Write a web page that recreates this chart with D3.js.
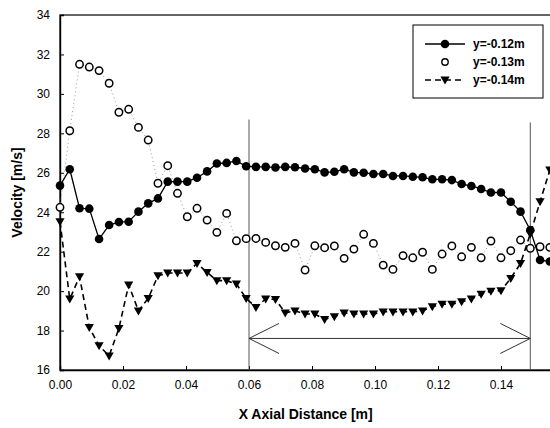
<!DOCTYPE html>
<html>
<head>
<meta charset="utf-8">
<script src="https://cdn.jsdelivr.net/npm/d3@7"></script>
<style>
  body { margin: 0; background: #fff; }
  svg { display: block; font-family: "Liberation Sans", Arial, sans-serif; }
</style>
</head>
<body>
<div class="chart"></div>
<script>
'use strict';

// x positions of the measurement stations [m]
var xDist = [0.0000, 0.0031, 0.0062, 0.0093, 0.0124, 0.0156, 0.0187, 0.0218, 0.0249, 0.0280,
             0.0311, 0.0342, 0.0373, 0.0404, 0.0435, 0.0467, 0.0498, 0.0529, 0.0560, 0.0591,
             0.0622, 0.0653, 0.0684, 0.0715, 0.0746, 0.0778, 0.0809, 0.0840, 0.0871, 0.0902,
             0.0933, 0.0964, 0.0995, 0.1026, 0.1057, 0.1089, 0.1120, 0.1151, 0.1182, 0.1213,
             0.1244, 0.1275, 0.1306, 0.1337, 0.1368, 0.1400, 0.1431, 0.1462, 0.1493, 0.1524,
             0.1555];

// y = -0.12 m
var v012 = [25.35, 26.18, 24.20, 24.18, 22.64, 23.35, 23.50, 23.52, 24.03, 24.45,
            24.70, 25.55, 25.55, 25.55, 25.75, 26.07, 26.47, 26.50, 26.60, 26.33,
            26.30, 26.30, 26.27, 26.30, 26.28, 26.22, 26.18, 26.02, 26.05, 26.18,
            26.02, 26.00, 25.94, 25.94, 25.84, 25.84, 25.80, 25.77, 25.67, 25.67,
            25.63, 25.43, 25.33, 25.18, 25.00, 25.00, 24.53, 24.03, 23.10, 21.58,
            21.50];

// y = -0.13 m
var v013 = [24.25, 28.13, 31.50, 31.36, 31.18, 30.54, 29.07, 29.22, 28.30, 27.66,
            25.47, 26.36, 24.96, 23.77, 24.20, 23.60, 22.98, 23.94, 22.55, 22.66,
            22.67, 22.47, 22.30, 22.22, 22.42, 21.07, 22.30, 22.20, 22.29, 21.66,
            22.13, 22.88, 22.42, 21.32, 21.10, 21.80, 21.69, 21.97, 21.10, 21.88,
            22.29, 21.74, 22.22, 21.69, 22.54, 21.69, 22.05, 22.59, 22.17, 22.25,
            22.22];

// y = -0.14 m
var v014 = [23.52, 19.60, 20.73, 18.16, 17.23, 16.72, 18.11, 20.32, 19.00, 19.63,
            20.78, 20.92, 20.92, 20.92, 21.41, 20.95, 20.53, 20.53, 20.36, 19.63,
            19.18, 19.60, 19.58, 18.90, 19.00, 18.84, 18.84, 18.57, 18.70, 18.90,
            18.84, 18.84, 18.84, 18.95, 18.95, 18.95, 18.95, 19.00, 19.21, 19.34,
            19.34, 19.46, 19.60, 19.85, 20.00, 20.02, 20.65, 21.40, 22.90, 24.53,
            26.14];

var seriesNames = ['y=-0.12m', 'y=-0.13m', 'y=-0.14m'];
var xTicks = [0.00, 0.02, 0.04, 0.06, 0.08, 0.10, 0.12, 0.14];
var yTicks = [16, 18, 20, 22, 24, 26, 28, 30, 32, 34];

// annotation: region between the two vertical markers
var regionX = [0.06, 0.1493];
var markerTop = [28.7, 28.55];
var arrowV = 17.6;

var width = 550, height = 428;
var margin = { left: 60, top: 15, bottom: 58 };

var x = d3.scaleLinear().domain([0, 0.16]).range([margin.left, margin.left + 504]);
var y = d3.scaleLinear().domain([16, 34]).range([height - margin.bottom, margin.top]);

var svg = d3.select('.chart')
  .append('svg')
  .attr('width', width)
  .attr('height', height);

// frame
svg.append('rect')
  .attr('x', x(0)).attr('y', y(34))
  .attr('width', x(0.16) - x(0)).attr('height', y(16) - y(34))
  .style('fill', 'none').style('stroke', '#000').style('stroke-width', 1.2);

// axes (ticks inside)
var xAxis = svg.append('g')
  .attr('transform', 'translate(0,' + y(16) + ')')
  .call(d3.axisBottom(x).tickValues(xTicks).tickSize(-4).tickPadding(10)
    .tickFormat(d3.format('.2f')));
var yAxis = svg.append('g')
  .attr('transform', 'translate(' + x(0) + ',0)')
  .call(d3.axisLeft(y).tickValues(yTicks).tickSize(-4).tickPadding(10));

[xAxis, yAxis].forEach(function(g) {
  g.select('.domain').style('stroke', '#000').style('stroke-width', 1.4);
  g.selectAll('line').style('stroke', '#000');
  g.selectAll('text').style('font-size', '12px').style('fill', '#000')
    .style('font-family', '"Liberation Sans", Arial, sans-serif');
});

// axis titles
svg.append('text')
  .attr('x', x(0.078)).attr('y', 419)
  .attr('text-anchor', 'middle')
  .style('font-size', '14px').style('font-weight', 'bold')
  .text('X Axial Distance [m]');
svg.append('text')
  .attr('transform', 'translate(22,' + y(25) + ') rotate(-90)')
  .attr('text-anchor', 'middle')
  .style('font-size', '14px').style('font-weight', 'bold')
  .text('Velocity [m/s]');

// vertical markers and double arrow
regionX.forEach(function(d, i) {
  svg.append('line')
    .attr('x1', x(d)).attr('x2', x(d))
    .attr('y1', y(markerTop[i])).attr('y2', y(16))
    .style('stroke', '#555').style('stroke-width', 1);
});
var ax0 = x(regionX[0]), ax1 = x(regionX[1]), ay = y(arrowV);
svg.append('path')
  .attr('d', 'M' + ax0 + ',' + ay + 'H' + ax1 +
    'M' + (ax0 + 30) + ',' + (ay - 15) + 'L' + ax0 + ',' + ay + 'L' + (ax0 + 30) + ',' + (ay + 15) +
    'M' + (ax1 - 30) + ',' + (ay - 15) + 'L' + ax1 + ',' + ay + 'L' + (ax1 - 30) + ',' + (ay + 15))
  .style('fill', 'none').style('stroke', '#333').style('stroke-width', 1);

var plot = svg.append('g');

function pts(vals) {
  return vals.map(function(v, i) { return [xDist[i], v]; });
}
var line = d3.line()
  .x(function(d) { return x(d[0]); })
  .y(function(d) { return y(d[1]); });

// y=-0.13 : dotted faint line, open circles
plot.append('path')
  .datum(pts(v013))
  .attr('d', line)
  .style('fill', 'none').style('stroke', '#999').style('stroke-width', 1)
  .style('stroke-dasharray', '1,3');

// y=-0.14 : dashed line, down triangles
plot.append('path')
  .datum(pts(v014))
  .attr('d', line)
  .style('fill', 'none').style('stroke', '#000').style('stroke-width', 1.6)
  .style('stroke-dasharray', '6,4');

// y=-0.12 : solid line, filled circles
plot.append('path')
  .datum(pts(v012))
  .attr('d', line)
  .style('fill', 'none').style('stroke', '#000').style('stroke-width', 1.3);

var tri = 'M-4.6,-3.4L4.6,-3.4L0,4.6Z';

plot.selectAll('.tri')
  .data(pts(v014)).enter()
  .append('path')
    .attr('class', 'tri')
    .attr('d', tri)
    .attr('transform', function(d) { return 'translate(' + x(d[0]) + ',' + y(d[1]) + ')'; })
    .style('fill', '#000');

plot.selectAll('.open')
  .data(pts(v013)).enter()
  .append('circle')
    .attr('class', 'open')
    .attr('cx', function(d) { return x(d[0]); })
    .attr('cy', function(d) { return y(d[1]); })
    .attr('r', 3.7)
    .style('fill', '#fff').style('stroke', '#000').style('stroke-width', 1.5);

plot.selectAll('.dot')
  .data(pts(v012)).enter()
  .append('circle')
    .attr('class', 'dot')
    .attr('cx', function(d) { return x(d[0]); })
    .attr('cy', function(d) { return y(d[1]); })
    .attr('r', 4.3)
    .style('fill', '#000');

// legend
var legend = svg.append('g').attr('transform', 'translate(413,25)');
legend.append('rect')
  .attr('width', 130).attr('height', 73)
  .style('fill', '#fff').style('stroke', '#000').style('stroke-width', 1);

seriesNames.forEach(function(name, i) {
  var ly = 19 + i * 18;
  var row = legend.append('g').attr('transform', 'translate(0,' + ly + ')');
  if (i === 0) {
    row.append('line').attr('x1', 12).attr('x2', 52)
      .style('stroke', '#000').style('stroke-width', 1.3);
    row.append('circle').attr('cx', 32).attr('r', 4.3).style('fill', '#000');
  } else if (i === 1) {
    row.append('circle').attr('cx', 32).attr('r', 3.2)
      .style('fill', '#fff').style('stroke', '#000').style('stroke-width', 1.4);
  } else {
    row.append('line').attr('x1', 12).attr('x2', 52)
      .style('stroke', '#000').style('stroke-width', 1.6).style('stroke-dasharray', '6,4');
    row.append('path').attr('d', tri).attr('transform', 'translate(32,0)').style('fill', '#000');
  }
  row.append('text')
    .attr('x', 60).attr('dy', '0.35em')
    .style('font-size', '12px').style('font-weight', 'bold')
    .text(name);
});
</script>
</body>
</html>
